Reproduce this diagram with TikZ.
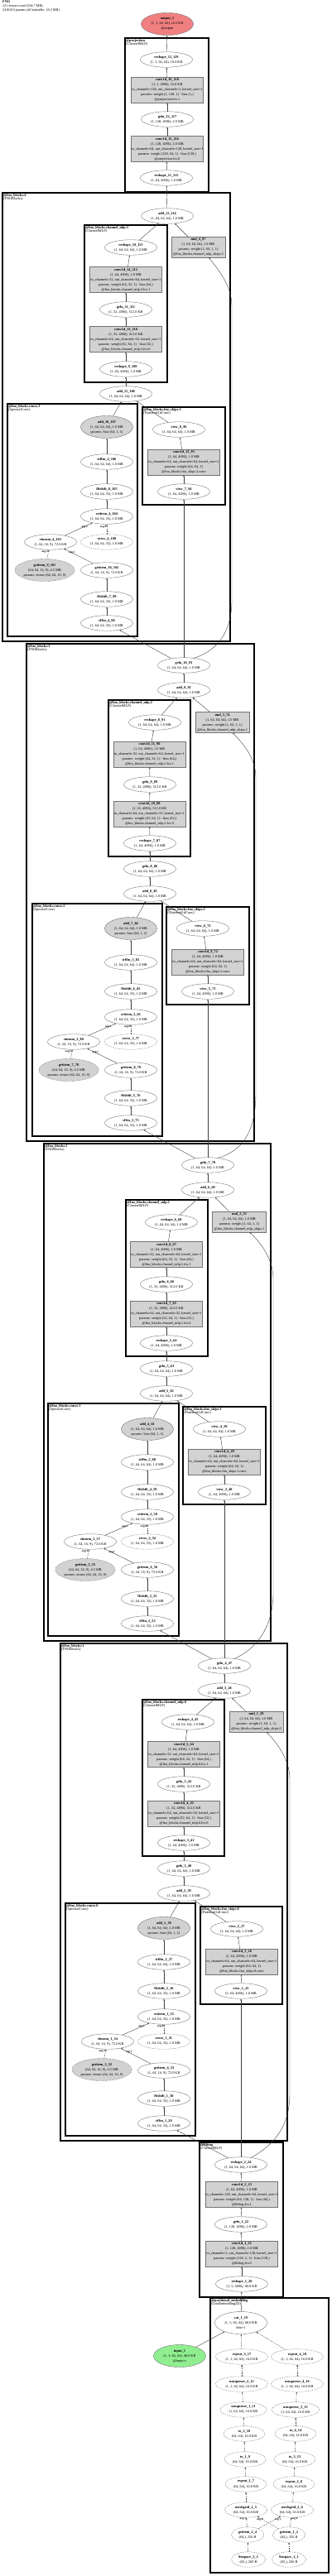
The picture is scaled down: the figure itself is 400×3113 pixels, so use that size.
\documentclass[tikz,border=0pt]{standalone}
\usepackage{fontspec}
\setmainfont{Liberation Serif}
\usetikzlibrary{arrows.meta,shapes.geometric}
\definecolor{outred}{HTML}{F08080}
\definecolor{ingreen}{HTML}{90EE90}

\begin{document}
\begin{tikzpicture}[
  x=1pt, y=-1pt,
  font=\fontsize{4.3}{6}\selectfont, >={Stealth[length=2.3pt,width=1.8pt]},
  op/.style={ellipse,draw=gray!90!black,inner sep=0pt,minimum width=63pt,minimum height=18.5pt,align=center},
  opb/.style={op,fill=gray!35,minimum height=27pt},
  buf/.style={op,dash pattern=on 1.5pt off 1.2pt},
  bufp/.style={opb,dash pattern=on 1.5pt off 1.2pt},
  mod/.style={draw=gray!90!black,fill=gray!35,inner sep=0pt,minimum width=87pt,minimum height=31pt,align=center},
  skp/.style={mod,minimum width=65pt,minimum height=25pt},
  grp/.style={draw,line width=1.2pt},
  glbl/.style={anchor=north west,inner sep=1pt,align=left,font=\fontsize{4.3}{4.4}\selectfont},
  e/.style={->,draw=gray!50!black,line width=0.4pt},
  eb/.style={e,dash pattern=on 1.5pt off 1.2pt},
  elbl/.style={font=\fontsize{3.3}{3.5}\selectfont\bfseries,inner sep=0.6pt}
]
\useasboundingbox (0,0) rectangle (400,3113);
\node[glbl,inner sep=0pt,font=\fontsize{4.2}{4.6}\selectfont] (hdr) at (3,1) {\textbf{FNO}\\121 tensors total (304.7 MB)\\2410433 params (all trainable, 18.2 MB)};

\node[op,fill=outred,minimum height=27pt] (output_1) at (202,29) {\textbf{output\_1}\\(1, 1, 64, 64), 16.0 KB\\@output};
\draw[grp] (151,46) rectangle (252,232);
\node[glbl] (lbl_projection) at (151,46) {\textbf{@projection}\\(ChannelMLP)};
\node[op] (reshape_12_119) at (201,72) {\textbf{reshape\_12\_119}\\(1, 1, 64, 64), 16.0 KB};
\node[mod] (conv1d_16_118) at (202,108.5) {\textbf{conv1d\_16\_118}\\(1, 1, 4096), 16.0 KB\\in\_channels=128, out\_channels=1, kernel\_size=1\\params: weight (1, 128, 1) · bias (1,)\\@projection.fcs.1};
\node[op] (gelu_12_117) at (202,144) {\textbf{gelu\_12\_117}\\(1, 128, 4096), 2.0 MB};
\node[mod] (conv1d_15_116) at (202,180) {\textbf{conv1d\_15\_116}\\(1, 128, 4096), 2.0 MB\\in\_channels=64, out\_channels=128, kernel\_size=1\\params: weight (128, 64, 1) · bias (128,)\\@projection.fcs.0};
\node[op] (reshape_11_115) at (201,215) {\textbf{reshape\_11\_115}\\(1, 64, 4096), 1.0 MB};

\draw[grp] (3,233) rectangle (278,775);
\node[glbl] (lbl_blk4) at (3,233) {\textbf{@fno\_blocks:4}\\(FNOBlocks)};
\node[op] (add_12_114) at (202,261) {\textbf{add\_12\_114}\\(1, 64, 64, 64), 1.0 MB};
\draw[grp] (102,272) rectangle (202,462);
\node[glbl] (lbl_mlp3) at (102,272) {\textbf{@fno\_blocks.channel\_mlp.3}\\(ChannelMLP)};
\node[op] (reshape_10_113) at (158,299) {\textbf{reshape\_10\_113}\\(1, 64, 64, 64), 1.0 MB};
\node[skp] (mul_4_97) at (239.5,298.5) {\textbf{mul\_4\_97}\\(1, 64, 64, 64), 1.0 MB\\params: weight (1, 64, 1, 1)\\@fno\_blocks.channel\_mlp\_skips.3};
\node[mod] (conv1d_14_112) at (152,338) {\textbf{conv1d\_14\_112}\\(1, 64, 4096), 1.0 MB\\in\_channels=32, out\_channels=64, kernel\_size=1\\params: weight (64, 32, 1) · bias (64,)\\@fno\_blocks.channel\_mlp.3.fcs.1};
\node[op] (gelu_11_111) at (152,374) {\textbf{gelu\_11\_111}\\(1, 32, 4096), 512.0 KB};
\node[mod] (conv1d_13_110) at (152,410) {\textbf{conv1d\_13\_110}\\(1, 32, 4096), 512.0 KB\\in\_channels=64, out\_channels=32, kernel\_size=1\\params: weight (32, 64, 1) · bias (32,)\\@fno\_blocks.channel\_mlp.3.fcs.0};
\node[op] (reshape_9_109) at (152,446) {\textbf{reshape\_9\_109}\\(1, 64, 4096), 1.0 MB};
\node[op] (add_11_108) at (152,476) {\textbf{add\_11\_108}\\(1, 64, 64, 64), 1.0 MB};
\draw[grp] (9,488) rectangle (166,769);
\node[glbl] (lbl_conv3) at (9,488) {\textbf{@fno\_blocks.convs.3}\\(SpectralConv)};
\draw[grp] (172,492) rectangle (272,610);
\node[glbl] (lbl_skip3) at (172,492) {\textbf{@fno\_blocks.fno\_skips.3}\\(Flattened1dConv)};
\node[opb] (add_10_107) at (129,516) {\textbf{add\_10\_107}\\(1, 64, 64, 64), 1.0 MB\\params: bias (64, 1, 1)};
\node[op] (view_8_96) at (216,519) {\textbf{view\_8\_96}\\(1, 64, 64, 64), 1.0 MB};
\node[op] (irfftn_4_106) at (129,558) {\textbf{irfftn\_4\_106}\\(1, 64, 64, 64), 1.0 MB};
\node[mod] (conv1d_12_95) at (222,558.5) {\textbf{conv1d\_12\_95}\\(1, 64, 4096), 1.0 MB\\in\_channels=64, out\_channels=64, kernel\_size=1\\params: weight (64, 64, 1)\\@fno\_blocks.fno\_skips.3.conv};
\node[op] (fftshift_8_105) at (129,594) {\textbf{fftshift\_8\_105}\\(1, 64, 64, 33), 1.0 MB};
\node[op] (view_7_94) at (222,594) {\textbf{view\_7\_94}\\(1, 64, 4096), 1.0 MB};
\node[op] (setitem_4_104) at (129,624) {\textbf{setitem\_4\_104}\\(1, 64, 64, 33), 1.0 MB};
\node[op] (einsum_4_103) at (61,655) {\textbf{einsum\_4\_103}\\(1, 64, 16, 9), 72.0 KB};
\node[buf] (zeros_4_100) at (129,655) {\textbf{zeros\_4\_100}\\(1, 64, 64, 33), 1.0 MB};
\node[bufp] (getitem_9_101) at (54,689) {\textbf{getitem\_9\_101}\\(64, 64, 16, 9), 4.5 MB\\params: tensor (64, 64, 16, 9)};
\node[op] (getitem_10_102) at (129,689) {\textbf{getitem\_10\_102}\\(1, 64, 16, 9), 72.0 KB};
\node[op] (fftshift_7_99) at (129,724) {\textbf{fftshift\_7\_99}\\(1, 64, 64, 33), 1.0 MB};
\node[op] (rfftn_4_98) at (129,753) {\textbf{rfftn\_4\_98}\\(1, 64, 64, 33), 1.0 MB};

\draw[grp] (32,778) rectangle (307,1379);
\node[glbl] (lbl_blk3) at (32,778) {\textbf{@fno\_blocks:3}\\(FNOBlocks)};
\node[op] (gelu_10_93) at (222,804) {\textbf{gelu\_10\_93}\\(1, 64, 64, 64), 1.0 MB};
\node[op] (add_9_92) at (222,834) {\textbf{add\_9\_92}\\(1, 64, 64, 64), 1.0 MB};
\draw[grp] (131,846) rectangle (230,1035);
\node[glbl] (lbl_mlp2) at (131,846) {\textbf{@fno\_blocks.channel\_mlp.2}\\(ChannelMLP)};
\node[op] (reshape_8_91) at (187,873) {\textbf{reshape\_8\_91}\\(1, 64, 64, 64), 1.0 MB};
\node[skp] (mul_3_74) at (268.5,873) {\textbf{mul\_3\_74}\\(1, 64, 64, 64), 1.0 MB\\params: weight (1, 64, 1, 1)\\@fno\_blocks.channel\_mlp\_skips.2};
\node[mod] (conv1d_11_90) at (180.5,911.5) {\textbf{conv1d\_11\_90}\\(1, 64, 4096), 1.0 MB\\in\_channels=32, out\_channels=64, kernel\_size=1\\params: weight (64, 32, 1) · bias (64,)\\@fno\_blocks.channel\_mlp.2.fcs.1};
\node[op] (gelu_9_89) at (181,948) {\textbf{gelu\_9\_89}\\(1, 32, 4096), 512.0 KB};
\node[mod] (conv1d_10_88) at (180.5,983.5) {\textbf{conv1d\_10\_88}\\(1, 32, 4096), 512.0 KB\\in\_channels=64, out\_channels=32, kernel\_size=1\\params: weight (32, 64, 1) · bias (32,)\\@fno\_blocks.channel\_mlp.2.fcs.0};
\node[op] (reshape_7_87) at (181,1019) {\textbf{reshape\_7\_87}\\(1, 64, 4096), 1.0 MB};
\node[op] (gelu_8_86) at (181,1050) {\textbf{gelu\_8\_86}\\(1, 64, 64, 64), 1.0 MB};
\node[op] (add_8_85) at (181,1080) {\textbf{add\_8\_85}\\(1, 64, 64, 64), 1.0 MB};
\draw[grp] (39,1092) rectangle (196,1373);
\node[glbl] (lbl_conv2) at (39,1092) {\textbf{@fno\_blocks.convs.2}\\(SpectralConv)};
\draw[grp] (201,1096) rectangle (301,1214);
\node[glbl] (lbl_skip2) at (201,1096) {\textbf{@fno\_blocks.fno\_skips.2}\\(Flattened1dConv)};
\node[opb] (add_7_84) at (158,1122) {\textbf{add\_7\_84}\\(1, 64, 64, 64), 1.0 MB\\params: bias (64, 1, 1)};
\node[op] (view_6_73) at (245,1122) {\textbf{view\_6\_73}\\(1, 64, 64, 64), 1.0 MB};
\node[op] (irfftn_3_83) at (158,1163) {\textbf{irfftn\_3\_83}\\(1, 64, 64, 64), 1.0 MB};
\node[mod] (conv1d_9_72) at (251,1162.5) {\textbf{conv1d\_9\_72}\\(1, 64, 4096), 1.0 MB\\in\_channels=64, out\_channels=64, kernel\_size=1\\params: weight (64, 64, 1)\\@fno\_blocks.fno\_skips.2.conv};
\node[op] (fftshift_6_82) at (158,1198) {\textbf{fftshift\_6\_82}\\(1, 64, 64, 33), 1.0 MB};
\node[op] (view_5_71) at (251,1198) {\textbf{view\_5\_71}\\(1, 64, 4096), 1.0 MB};
\node[op] (setitem_3_81) at (158,1229) {\textbf{setitem\_3\_81}\\(1, 64, 64, 33), 1.0 MB};
\node[op] (einsum_3_80) at (89,1259) {\textbf{einsum\_3\_80}\\(1, 64, 16, 9), 72.0 KB};
\node[buf] (zeros_3_77) at (158,1259) {\textbf{zeros\_3\_77}\\(1, 64, 64, 33), 1.0 MB};
\node[bufp] (getitem_7_78) at (83,1293) {\textbf{getitem\_7\_78}\\(64, 64, 16, 9), 4.5 MB\\params: tensor (64, 64, 16, 9)};
\node[op] (getitem_8_79) at (158,1293) {\textbf{getitem\_8\_79}\\(1, 64, 16, 9), 72.0 KB};
\node[op] (fftshift_5_76) at (158,1327) {\textbf{fftshift\_5\_76}\\(1, 64, 64, 33), 1.0 MB};
\node[op] (rfftn_3_75) at (158,1357) {\textbf{rfftn\_3\_75}\\(1, 64, 64, 33), 1.0 MB};

\draw[grp] (53,1382) rectangle (327,1983);
\node[glbl] (lbl_blk2) at (53,1382) {\textbf{@fno\_blocks:2}\\(FNOBlocks)};
\node[op] (gelu_7_70) at (251,1408) {\textbf{gelu\_7\_70}\\(1, 64, 64, 64), 1.0 MB};
\node[op] (add_6_69) at (251,1438) {\textbf{add\_6\_69}\\(1, 64, 64, 64), 1.0 MB};
\draw[grp] (152,1450) rectangle (251,1639);
\node[glbl] (lbl_mlp1) at (152,1450) {\textbf{@fno\_blocks.channel\_mlp.1}\\(ChannelMLP)};
\node[op] (reshape_6_68) at (207,1477) {\textbf{reshape\_6\_68}\\(1, 64, 64, 64), 1.0 MB};
\node[skp] (mul_2_51) at (289,1476.5) {\textbf{mul\_2\_51}\\(1, 64, 64, 64), 1.0 MB\\params: weight (1, 64, 1, 1)\\@fno\_blocks.channel\_mlp\_skips.1};
\node[mod] (conv1d_8_67) at (201,1516) {\textbf{conv1d\_8\_67}\\(1, 64, 4096), 1.0 MB\\in\_channels=32, out\_channels=64, kernel\_size=1\\params: weight (64, 32, 1) · bias (64,)\\@fno\_blocks.channel\_mlp.1.fcs.1};
\node[op] (gelu_6_66) at (201,1552) {\textbf{gelu\_6\_66}\\(1, 32, 4096), 512.0 KB};
\node[mod] (conv1d_7_65) at (201,1587.5) {\textbf{conv1d\_7\_65}\\(1, 32, 4096), 512.0 KB\\in\_channels=64, out\_channels=32, kernel\_size=1\\params: weight (32, 64, 1) · bias (32,)\\@fno\_blocks.channel\_mlp.1.fcs.0};
\node[op] (reshape_5_64) at (201,1623) {\textbf{reshape\_5\_64}\\(1, 64, 4096), 1.0 MB};
\node[op] (gelu_5_63) at (201,1654) {\textbf{gelu\_5\_63}\\(1, 64, 64, 64), 1.0 MB};
\node[op] (add_5_62) at (201,1684) {\textbf{add\_5\_62}\\(1, 64, 64, 64), 1.0 MB};
\draw[grp] (58,1696) rectangle (216,1977);
\node[glbl] (lbl_conv1) at (58,1696) {\textbf{@fno\_blocks.convs.1}\\(SpectralConv)};
\draw[grp] (221,1700) rectangle (321,1818);
\node[glbl] (lbl_skip1) at (221,1700) {\textbf{@fno\_blocks.fno\_skips.1}\\(Flattened1dConv)};
\node[opb] (add_4_61) at (178,1727) {\textbf{add\_4\_61}\\(1, 64, 64, 64), 1.0 MB\\params: bias (64, 1, 1)};
\node[op] (view_4_50) at (265,1727) {\textbf{view\_4\_50}\\(1, 64, 64, 64), 1.0 MB};
\node[op] (irfftn_2_60) at (178,1767) {\textbf{irfftn\_2\_60}\\(1, 64, 64, 64), 1.0 MB};
\node[mod] (conv1d_6_49) at (271,1766.5) {\textbf{conv1d\_6\_49}\\(1, 64, 4096), 1.0 MB\\in\_channels=64, out\_channels=64, kernel\_size=1\\params: weight (64, 64, 1)\\@fno\_blocks.fno\_skips.1.conv};
\node[op] (fftshift_4_59) at (178,1803) {\textbf{fftshift\_4\_59}\\(1, 64, 64, 33), 1.0 MB};
\node[op] (view_3_48) at (271,1803) {\textbf{view\_3\_48}\\(1, 64, 4096), 1.0 MB};
\node[op] (setitem_2_58) at (178,1833) {\textbf{setitem\_2\_58}\\(1, 64, 64, 33), 1.0 MB};
\node[op] (einsum_2_57) at (109,1863) {\textbf{einsum\_2\_57}\\(1, 64, 16, 9), 72.0 KB};
\node[buf] (zeros_2_54) at (178,1863) {\textbf{zeros\_2\_54}\\(1, 64, 64, 33), 1.0 MB};
\node[bufp] (getitem_5_55) at (103,1897) {\textbf{getitem\_5\_55}\\(64, 64, 16, 9), 4.5 MB\\params: tensor (64, 64, 16, 9)};
\node[op] (getitem_6_56) at (178,1897) {\textbf{getitem\_6\_56}\\(1, 64, 16, 9), 72.0 KB};
\node[op] (fftshift_3_53) at (178,1932) {\textbf{fftshift\_3\_53}\\(1, 64, 64, 33), 1.0 MB};
\node[op] (rfftn_2_52) at (178,1962) {\textbf{rfftn\_2\_52}\\(1, 64, 64, 33), 1.0 MB};

\draw[grp] (73,1986) rectangle (347,2587);
\node[glbl] (lbl_blk1) at (73,1986) {\textbf{@fno\_blocks:1}\\(FNOBlocks)};
\node[op] (gelu_4_47) at (271,2013) {\textbf{gelu\_4\_47}\\(1, 64, 64, 64), 1.0 MB};
\node[op] (add_3_46) at (271,2043) {\textbf{add\_3\_46}\\(1, 64, 64, 64), 1.0 MB};
\draw[grp] (172,2054) rectangle (271,2243);
\node[glbl] (lbl_mlp0) at (172,2054) {\textbf{@fno\_blocks.channel\_mlp.0}\\(ChannelMLP)};
\node[op] (reshape_4_45) at (227,2081) {\textbf{reshape\_4\_45}\\(1, 64, 64, 64), 1.0 MB};
\node[skp] (mul_1_28) at (309.5,2080.5) {\textbf{mul\_1\_28}\\(1, 64, 64, 64), 1.0 MB\\params: weight (1, 64, 1, 1)\\@fno\_blocks.channel\_mlp\_skips.0};
\node[mod] (conv1d_5_44) at (222,2120) {\textbf{conv1d\_5\_44}\\(1, 64, 4096), 1.0 MB\\in\_channels=32, out\_channels=64, kernel\_size=1\\params: weight (64, 32, 1) · bias (64,)\\@fno\_blocks.channel\_mlp.0.fcs.1};
\node[op] (gelu_3_43) at (222,2156) {\textbf{gelu\_3\_43}\\(1, 32, 4096), 512.0 KB};
\node[mod] (conv1d_4_42) at (222,2191.5) {\textbf{conv1d\_4\_42}\\(1, 32, 4096), 512.0 KB\\in\_channels=64, out\_channels=32, kernel\_size=1\\params: weight (32, 64, 1) · bias (32,)\\@fno\_blocks.channel\_mlp.0.fcs.0};
\node[op] (reshape_3_41) at (222,2227) {\textbf{reshape\_3\_41}\\(1, 64, 4096), 1.0 MB};
\node[op] (gelu_2_40) at (222,2258) {\textbf{gelu\_2\_40}\\(1, 64, 64, 64), 1.0 MB};
\node[op] (add_2_39) at (222,2288) {\textbf{add\_2\_39}\\(1, 64, 64, 64), 1.0 MB};
\draw[grp] (79,2300) rectangle (236,2581);
\node[glbl] (lbl_conv0) at (79,2300) {\textbf{@fno\_blocks.convs.0}\\(SpectralConv)};
\draw[grp] (242,2304) rectangle (341,2422);
\node[glbl] (lbl_skip0) at (242,2304) {\textbf{@fno\_blocks.fno\_skips.0}\\(Flattened1dConv)};
\node[opb] (add_1_38) at (198,2330) {\textbf{add\_1\_38}\\(1, 64, 64, 64), 1.0 MB\\params: bias (64, 1, 1)};
\node[op] (view_2_27) at (286,2331) {\textbf{view\_2\_27}\\(1, 64, 64, 64), 1.0 MB};
\node[op] (irfftn_1_37) at (198,2371) {\textbf{irfftn\_1\_37}\\(1, 64, 64, 64), 1.0 MB};
\node[mod] (conv1d_3_26) at (292,2370.5) {\textbf{conv1d\_3\_26}\\(1, 64, 4096), 1.0 MB\\in\_channels=64, out\_channels=64, kernel\_size=1\\params: weight (64, 64, 1)\\@fno\_blocks.fno\_skips.0.conv};
\node[op] (fftshift_2_36) at (198,2406) {\textbf{fftshift\_2\_36}\\(1, 64, 64, 33), 1.0 MB};
\node[op] (view_1_25) at (291,2406) {\textbf{view\_1\_25}\\(1, 64, 4096), 1.0 MB};
\node[op] (setitem_1_35) at (198,2437) {\textbf{setitem\_1\_35}\\(1, 64, 64, 33), 1.0 MB};
\node[op] (einsum_1_34) at (130,2467) {\textbf{einsum\_1\_34}\\(1, 64, 16, 9), 72.0 KB};
\node[buf] (zeros_1_31) at (198,2467) {\textbf{zeros\_1\_31}\\(1, 64, 64, 33), 1.0 MB};
\node[bufp] (getitem_3_32) at (123,2501) {\textbf{getitem\_3\_32}\\(64, 64, 16, 9), 4.5 MB\\params: tensor (64, 64, 16, 9)};
\node[op] (getitem_4_33) at (198,2502) {\textbf{getitem\_4\_33}\\(1, 64, 16, 9), 72.0 KB};
\node[op] (fftshift_1_30) at (198,2536) {\textbf{fftshift\_1\_30}\\(1, 64, 64, 33), 1.0 MB};
\node[op] (rfftn_1_29) at (198,2566) {\textbf{rfftn\_1\_29}\\(1, 64, 64, 33), 1.0 MB};

\draw[grp] (241,2589) rectangle (342,2776);
\node[glbl] (lbl_lifting) at (241,2589) {\textbf{@lifting}\\(ChannelMLP)};
\node[op] (reshape_2_24) at (291,2616) {\textbf{reshape\_2\_24}\\(1, 64, 64, 64), 1.0 MB};
\node[mod] (conv1d_2_23) at (292,2652) {\textbf{conv1d\_2\_23}\\(1, 64, 4096), 1.0 MB\\in\_channels=128, out\_channels=64, kernel\_size=1\\params: weight (64, 128, 1) · bias (64,)\\@lifting.fcs.1};
\node[op] (gelu_1_22) at (291,2688) {\textbf{gelu\_1\_22}\\(1, 128, 4096), 2.0 MB};
\node[mod] (conv1d_1_21) at (292,2723.5) {\textbf{conv1d\_1\_21}\\(1, 128, 4096), 2.0 MB\\in\_channels=5, out\_channels=128, kernel\_size=1\\params: weight (128, 5, 1) · bias (128,)\\@lifting.fcs.0};
\node[op] (reshape_1_20) at (292,2760) {\textbf{reshape\_1\_20}\\(1, 5, 4096), 80.0 KB};

\draw[grp] (254,2777) rectangle (397,3109);
\node[glbl] (lbl_posemb) at (254,2777) {\textbf{@positional\_embedding}\\(GridEmbedding2D)};
\node[op,minimum height=27pt] (cat_1_19) at (291,2807) {\textbf{cat\_1\_19}\\(1, 5, 64, 64), 80.0 KB\\dim=1};
\node[op,fill=ingreen,minimum height=27pt] (input_1) at (217,2847) {\textbf{input\_1}\\(1, 3, 64, 64), 48.0 KB\\@input.x};
\node[buf] (repeat_3_17) at (292,2848) {\textbf{repeat\_3\_17}\\(1, 1, 64, 64), 16.0 KB};
\node[buf] (repeat_4_18) at (359,2848) {\textbf{repeat\_4\_18}\\(1, 1, 64, 64), 16.0 KB};
\node[buf] (unsqueeze_2_12) at (292,2881) {\textbf{unsqueeze\_2\_12}\\(1, 1, 64, 64), 16.0 KB};
\node[buf] (unsqueeze_4_16) at (359,2881) {\textbf{unsqueeze\_4\_16}\\(1, 1, 64, 64), 16.0 KB};
\node[buf,minimum width=56pt] (unsqueeze_1_11) at (294,2912) {\textbf{unsqueeze\_1\_11}\\(1, 64, 64), 16.0 KB};
\node[buf,minimum width=57pt] (unsqueeze_3_15) at (357,2912) {\textbf{unsqueeze\_3\_15}\\(1, 64, 64), 16.0 KB};
\node[buf,minimum width=50pt] (to_2_10) at (295,2941) {\textbf{to\_2\_10}\\(64, 64), 16.0 KB};
\node[buf,minimum width=50pt] (to_4_14) at (357,2941) {\textbf{to\_4\_14}\\(64, 64), 16.0 KB};
\node[buf,minimum width=50pt] (to_1_9) at (296,2972) {\textbf{to\_1\_9}\\(64, 64), 16.0 KB};
\node[buf,minimum width=50pt] (to_3_13) at (356,2972) {\textbf{to\_3\_13}\\(64, 64), 16.0 KB};
\node[buf,minimum width=50pt] (repeat_1_7) at (297,3002) {\textbf{repeat\_1\_7}\\(64, 64), 16.0 KB};
\node[buf,minimum width=50pt] (repeat_2_8) at (355,3002) {\textbf{repeat\_2\_8}\\(64, 64), 16.0 KB};
\node[buf,minimum width=51pt] (meshgrid_1_5) at (297,3033) {\textbf{meshgrid\_1\_5}\\(64, 64), 16.0 KB};
\node[buf,minimum width=51pt] (meshgrid_2_6) at (353,3033) {\textbf{meshgrid\_2\_6}\\(64, 64), 16.0 KB};
\node[buf,minimum width=39pt] (getitem_2_4) at (299,3063) {\textbf{getitem\_2\_4}\\(64,), 256 B};
\node[buf,minimum width=39pt] (getitem_1_2) at (349,3063) {\textbf{getitem\_1\_2}\\(64,), 256 B};
\node[buf,minimum width=41pt] (linspace_2_3) at (300,3093) {\textbf{linspace\_2\_3}\\(65,), 260 B};
\node[buf,minimum width=41pt] (linspace_1_1) at (349,3093) {\textbf{linspace\_1\_1}\\(65,), 260 B};

\draw[eb] (linspace_1_1) -- (getitem_1_2);
\draw[eb] (linspace_2_3) -- (getitem_2_4);
\draw[eb] (getitem_2_4) -- node[elbl,pos=0.85,left]{arg 1} (meshgrid_1_5);
\draw[eb] (getitem_1_2) -- node[elbl,pos=0.88,below]{arg 0} (meshgrid_1_5);
\draw[eb] (getitem_2_4) -- node[elbl,pos=0.88,below]{arg 1} (meshgrid_2_6);
\draw[eb] (getitem_1_2) -- node[elbl,pos=0.85,right]{arg 0} (meshgrid_2_6);
\draw[eb] (meshgrid_1_5) -- (repeat_1_7);
\draw[eb] (repeat_1_7) -- (to_1_9);
\draw[eb] (to_1_9) -- (to_2_10);
\draw[eb] (to_2_10) -- (unsqueeze_1_11);
\draw[eb] (unsqueeze_1_11) -- (unsqueeze_2_12);
\draw[eb] (unsqueeze_2_12) -- (repeat_3_17);
\draw[eb] (repeat_3_17) -- (cat_1_19);
\draw[eb] (meshgrid_2_6) -- (repeat_2_8);
\draw[eb] (repeat_2_8) -- (to_3_13);
\draw[eb] (to_3_13) -- (to_4_14);
\draw[eb] (to_4_14) -- (unsqueeze_3_15);
\draw[eb] (unsqueeze_3_15) -- (unsqueeze_4_16);
\draw[eb] (unsqueeze_4_16) -- (repeat_4_18);
\draw[eb] (repeat_4_18) -- (cat_1_19);
\draw[e] (input_1) -- (cat_1_19);
\draw[e] (cat_1_19) -- (reshape_1_20);
\draw[e] (reshape_1_20) -- (conv1d_1_21);
\draw[e] (conv1d_1_21) -- (gelu_1_22);
\draw[e] (gelu_1_22) -- (conv1d_2_23);
\draw[e] (conv1d_2_23) -- (reshape_2_24);

\draw[e] (reshape_2_24) -- (view_1_25);
\draw[e] (reshape_2_24) -- (rfftn_1_29);
\draw[e] (reshape_2_24.35) .. controls (335,2590) and (350,2565) .. (350,2530) -- (350,2150) .. controls (350,2125) and (333,2105) .. (mul_1_28.-45);
\draw[e] (view_1_25) -- (conv1d_3_26);
\draw[e] (conv1d_3_26) -- (view_2_27);
\draw[e] (view_2_27) -- (add_2_39);
\draw[e] (rfftn_1_29) -- (fftshift_1_30);
\draw[e] (fftshift_1_30) -- (getitem_4_33);
\draw[e] (getitem_4_33) -- node[elbl,pos=0.85,below right]{arg 1} (einsum_1_34);
\draw[eb] (getitem_3_32) -- node[elbl,pos=0.8,left]{arg 2} (einsum_1_34);
\draw[e] (einsum_1_34) -- node[elbl,pos=0.85,below left]{arg 2} (setitem_1_35);
\draw[eb] (zeros_1_31) -- node[elbl,pos=0.75,left]{arg 0} (setitem_1_35);
\draw[e] (setitem_1_35) -- (fftshift_2_36);
\draw[e] (fftshift_2_36) -- (irfftn_1_37);
\draw[e] (irfftn_1_37) -- (add_1_38);
\draw[e] (add_1_38) -- (add_2_39);
\draw[e] (add_2_39) -- (gelu_2_40);
\draw[e] (gelu_2_40) -- (reshape_3_41);
\draw[e] (reshape_3_41) -- (conv1d_4_42);
\draw[e] (conv1d_4_42) -- (gelu_3_43);
\draw[e] (gelu_3_43) -- (conv1d_5_44);
\draw[e] (conv1d_5_44) -- (reshape_4_45);
\draw[e] (reshape_4_45) -- (add_3_46);
\draw[e] (mul_1_28) -- (add_3_46);
\draw[e] (add_3_46) -- (gelu_4_47);

\draw[e] (gelu_4_47) -- (view_3_48);
\draw[e] (gelu_4_47) -- (rfftn_2_52);
\draw[e] (gelu_4_47.35) .. controls (315,1990) and (330,1960) .. (330,1925) -- (330,1545) .. controls (330,1520) and (313,1500) .. (mul_2_51.-45);
\draw[e] (view_3_48) -- (conv1d_6_49);
\draw[e] (conv1d_6_49) -- (view_4_50);
\draw[e] (view_4_50) -- (add_5_62);
\draw[e] (rfftn_2_52) -- (fftshift_3_53);
\draw[e] (fftshift_3_53) -- (getitem_6_56);
\draw[e] (getitem_6_56) -- node[elbl,pos=0.85,below right]{arg 1} (einsum_2_57);
\draw[eb] (getitem_5_55) -- node[elbl,pos=0.8,left]{arg 2} (einsum_2_57);
\draw[e] (einsum_2_57) -- node[elbl,pos=0.85,below left]{arg 2} (setitem_2_58);
\draw[eb] (zeros_2_54) -- node[elbl,pos=0.75,left]{arg 0} (setitem_2_58);
\draw[e] (setitem_2_58) -- (fftshift_4_59);
\draw[e] (fftshift_4_59) -- (irfftn_2_60);
\draw[e] (irfftn_2_60) -- (add_4_61);
\draw[e] (add_4_61) -- (add_5_62);
\draw[e] (add_5_62) -- (gelu_5_63);
\draw[e] (gelu_5_63) -- (reshape_5_64);
\draw[e] (reshape_5_64) -- (conv1d_7_65);
\draw[e] (conv1d_7_65) -- (gelu_6_66);
\draw[e] (gelu_6_66) -- (conv1d_8_67);
\draw[e] (conv1d_8_67) -- (reshape_6_68);
\draw[e] (reshape_6_68) -- (add_6_69);
\draw[e] (mul_2_51) -- (add_6_69);
\draw[e] (add_6_69) -- (gelu_7_70);

\draw[e] (gelu_7_70) -- (view_5_71);
\draw[e] (gelu_7_70) -- (rfftn_3_75);
\draw[e] (gelu_7_70.35) .. controls (295,1390) and (309,1365) .. (309,1320) -- (309,940) .. controls (309,915) and (292,897) .. (mul_3_74.-45);
\draw[e] (view_5_71) -- (conv1d_9_72);
\draw[e] (conv1d_9_72) -- (view_6_73);
\draw[e] (view_6_73) -- (add_8_85);
\draw[e] (rfftn_3_75) -- (fftshift_5_76);
\draw[e] (fftshift_5_76) -- (getitem_8_79);
\draw[e] (getitem_8_79) -- node[elbl,pos=0.85,below right]{arg 1} (einsum_3_80);
\draw[eb] (getitem_7_78) -- node[elbl,pos=0.8,left]{arg 2} (einsum_3_80);
\draw[e] (einsum_3_80) -- node[elbl,pos=0.85,below left]{arg 2} (setitem_3_81);
\draw[eb] (zeros_3_77) -- node[elbl,pos=0.75,left]{arg 0} (setitem_3_81);
\draw[e] (setitem_3_81) -- (fftshift_6_82);
\draw[e] (fftshift_6_82) -- (irfftn_3_83);
\draw[e] (irfftn_3_83) -- (add_7_84);
\draw[e] (add_7_84) -- (add_8_85);
\draw[e] (add_8_85) -- (gelu_8_86);
\draw[e] (gelu_8_86) -- (reshape_7_87);
\draw[e] (reshape_7_87) -- (conv1d_10_88);
\draw[e] (conv1d_10_88) -- (gelu_9_89);
\draw[e] (gelu_9_89) -- (conv1d_11_90);
\draw[e] (conv1d_11_90) -- (reshape_8_91);
\draw[e] (reshape_8_91) -- (add_9_92);
\draw[e] (mul_3_74) -- (add_9_92);
\draw[e] (add_9_92) -- (gelu_10_93);

\draw[e] (gelu_10_93) -- (view_7_94);
\draw[e] (gelu_10_93) -- (rfftn_4_98);
\draw[e] (gelu_10_93.35) .. controls (266,785) and (280,760) .. (280,725) -- (280,370) .. controls (280,345) and (263,325) .. (mul_4_97.-45);
\draw[e] (view_7_94) -- (conv1d_12_95);
\draw[e] (conv1d_12_95) -- (view_8_96);
\draw[e] (view_8_96) -- (add_11_108);
\draw[e] (rfftn_4_98) -- (fftshift_7_99);
\draw[e] (fftshift_7_99) -- (getitem_10_102);
\draw[e] (getitem_10_102) -- node[elbl,pos=0.85,below right]{arg 1} (einsum_4_103);
\draw[eb] (getitem_9_101) -- node[elbl,pos=0.8,left]{arg 2} (einsum_4_103);
\draw[e] (einsum_4_103) -- node[elbl,pos=0.85,below left]{arg 2} (setitem_4_104);
\draw[eb] (zeros_4_100) -- node[elbl,pos=0.75,left]{arg 0} (setitem_4_104);
\draw[e] (setitem_4_104) -- (fftshift_8_105);
\draw[e] (fftshift_8_105) -- (irfftn_4_106);
\draw[e] (irfftn_4_106) -- (add_10_107);
\draw[e] (add_10_107) -- (add_11_108);
\draw[e] (add_11_108) -- (reshape_9_109);
\draw[e] (reshape_9_109) -- (conv1d_13_110);
\draw[e] (conv1d_13_110) -- (gelu_11_111);
\draw[e] (gelu_11_111) -- (conv1d_14_112);
\draw[e] (conv1d_14_112) -- (reshape_10_113);
\draw[e] (reshape_10_113) -- (add_12_114);
\draw[e] (mul_4_97) -- (add_12_114);

\draw[e] (add_12_114) -- (reshape_11_115);
\draw[e] (reshape_11_115) -- (conv1d_15_116);
\draw[e] (conv1d_15_116) -- (gelu_12_117);
\draw[e] (gelu_12_117) -- (conv1d_16_118);
\draw[e] (conv1d_16_118) -- (reshape_12_119);
\draw[e] (reshape_12_119) -- (output_1);
\end{tikzpicture}
\end{document}
